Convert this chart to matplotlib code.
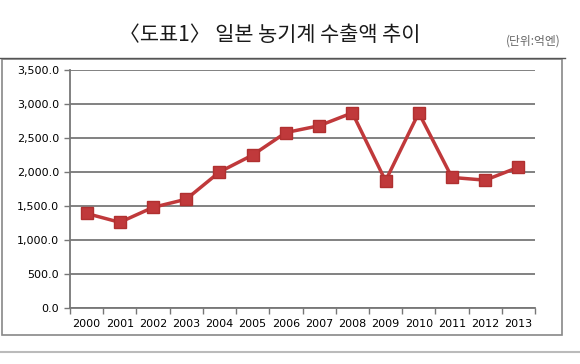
import matplotlib.pyplot as plt
from matplotlib.patches import Rectangle
from matplotlib.lines import Line2D

plt.rcParams['font.family'] = ['Noto Sans CJK KR', 'DejaVu Sans']

# data (unit: 100 million yen)
years = ['2000', '2001', '2002', '2003', '2004', '2005', '2006',
         '2007', '2008', '2009', '2010', '2011', '2012', '2013']
exports = [1390, 1260, 1480, 1600, 2000, 2250, 2580,
           2680, 2870, 1870, 2870, 1920, 1880, 2070]
yticks = [0, 500, 1000, 1500, 2000, 2500, 3000, 3500]

W, H = 580, 364
fig = plt.figure(figsize=(W / 100, H / 100), dpi=100)

# title and unit
fig.text(270 / W, 1 - 35 / H, '〈도표1〉 일본 농기계 수출액 추이', ha='center', va='center',
         fontsize=15, fontweight='medium', color='#1a1a1a')
fig.text(533 / W, 1 - 41 / H, '(단위:억엔)', ha='center', va='center',
         fontsize=8.5, color='#666666')

# rules and chart box
fig.add_artist(Line2D([0, 565 / W], [1 - 58 / H] * 2, color='#555555', lw=1.0))
fig.add_artist(Line2D([0, 1], [1 - 352 / H] * 2, color='#bbbbbb', lw=1.5))
fig.add_artist(Rectangle((2 / W, 1 - 335 / H), 560 / W, 276 / H, fill=False,
                         edgecolor='#888888', lw=1.2))

ax = fig.add_axes([70 / W, 1 - 308 / H, 465 / W, 238 / H])
x = range(len(years))
ax.plot(x, exports, color='#C0393B', lw=2.5, marker='s', markersize=8.5,
        markerfacecolor='#C0393B', markeredgecolor='#B03030', zorder=3)

ax.set_xlim(-0.5, len(years) - 0.5)
ax.set_ylim(0, 3500)
ax.set_yticks(yticks)
ax.set_yticklabels([f'{v:,.1f}' for v in yticks], fontsize=8, family='DejaVu Sans')
ax.set_xticks(x)
ax.set_xticklabels(years, fontsize=8, family='DejaVu Sans')
ax.set_xticks([i - 0.5 for i in range(len(years) + 1)], minor=True)
ax.tick_params(axis='x', which='major', length=0, pad=8)
ax.tick_params(axis='x', which='minor', length=4, color='#777777', width=1)
ax.tick_params(axis='y', length=4, color='#777777', width=1, pad=4)
ax.grid(axis='y', color='#777777', lw=1.3)
ax.set_axisbelow(True)
for s in ['top', 'right']:
    ax.spines[s].set_visible(False)
for s in ['left', 'bottom']:
    ax.spines[s].set_color('#777777')
    ax.spines[s].set_linewidth(1.3)

fig.savefig('out.png', dpi=100)
